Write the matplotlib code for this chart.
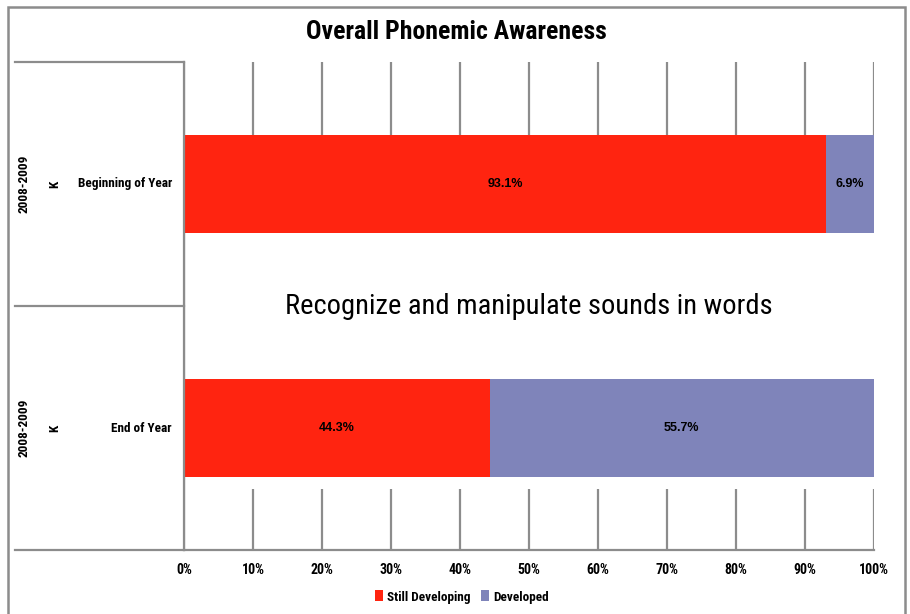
import matplotlib.pyplot as plt
from matplotlib.patches import Rectangle
import matplotlib.transforms as mtransforms

plt.rcParams['font.family'] = ['Roboto Condensed', 'DejaVu Sans']

periods = ["Beginning of Year", "End of Year"]
grades = ["K", "K"]
years = ["2008-2009", "2008-2009"]
still_developing = [93.1, 44.3]
developed = [6.9, 55.7]
ticks = [0, 10, 20, 30, 40, 50, 60, 70, 80, 90, 100]

red = "#FF2410"
blue = "#7F84BA"
gray = "#8C8C8C"

W, H = 910, 614
fig = plt.figure(figsize=(W / 100, H / 100), dpi=100)
ax = fig.add_axes([184 / W, 1 - 550 / H, 690 / W, 488 / H])

# outer frame
fig.patches.append(Rectangle((8 / W, -0.05), 897 / W, 1.05 - 7 / H,
                             transform=fig.transFigure, fill=False,
                             edgecolor=gray, lw=1.8))

ypos = list(range(len(periods)))
b1 = ax.barh(ypos, still_developing, height=0.4, color=red, label="Still Developing", zorder=3)
b2 = ax.barh(ypos, developed, left=still_developing, height=0.4, color=blue, label="Developed", zorder=3)

# white text box between the bars hides the gridlines
ax.add_patch(Rectangle((0.3, 0.2), 99.9, 1.05, facecolor="white", edgecolor="none", zorder=2))

for i in ypos:
    ax.text(still_developing[i] / 2, i, f"{still_developing[i]:.1f}%", ha="center", va="center",
            fontsize=9, fontweight="bold", family="Liberation Sans", zorder=4)
    ax.text(still_developing[i] + developed[i] / 2, i, f"{developed[i]:.1f}%", ha="center",
            va="center", fontsize=9, fontweight="bold", family="Liberation Sans", zorder=4)

ax.set_xlim(0, 100)
ax.set_ylim(1.5, -0.5)
ax.set_xticks(ticks)
ax.set_xticklabels([f"{t}%" for t in ticks], fontsize=10, fontweight="bold")
ax.tick_params(axis="x", length=0, pad=9)
ax.set_yticks([])
ax.grid(axis="x", color=gray, lw=1.6, zorder=1)
for s in ["top", "right"]:
    ax.spines[s].set_visible(False)
ax.spines["left"].set_color(gray)
ax.spines["left"].set_linewidth(1.6)
ax.spines["left"].set_zorder(3)
ax.spines["bottom"].set_color(gray)
ax.spines["bottom"].set_linewidth(1.6)

# category labels on the left
trans = mtransforms.blended_transform_factory(ax.transAxes, ax.transData)
xl = (15 - 184) / 690
for yv in [-0.5, 0.5, 1.5]:
    ax.plot([xl, 0], [yv, yv], transform=trans, color=gray, lw=1.6, clip_on=False)
for i in ypos:
    ax.text((172 - 184) / 690, i, periods[i], transform=trans, ha="right", va="center",
            fontsize=9.5, fontweight="bold")
    ax.text((55 - 184) / 690, i, grades[i], transform=trans, ha="center", va="center",
            fontsize=9.5, fontweight="bold", rotation=90)
    ax.text((24 - 184) / 690, i, years[i], transform=trans, ha="center", va="center",
            fontsize=9.5, fontweight="bold", rotation=90)

ax.text(0.5, 0.5, "Recognize and manipulate sounds in words", transform=ax.transAxes,
        ha="center", va="center", fontsize=20.5, zorder=5)

fig.text(456 / W, 1 - 32 / H, "Overall Phonemic Awareness", ha="center", va="center",
         fontsize=18.5, fontweight="heavy")

fig.legend(handles=[b1, b2], loc="center", bbox_to_anchor=(462 / W, 1 - 597 / H), ncol=2,
           frameon=False, prop={"weight": "bold", "size": 9.5},
           handlelength=0.6, handleheight=0.9, handletextpad=0.3, columnspacing=0.8)

fig.savefig("out.png", dpi=100)
